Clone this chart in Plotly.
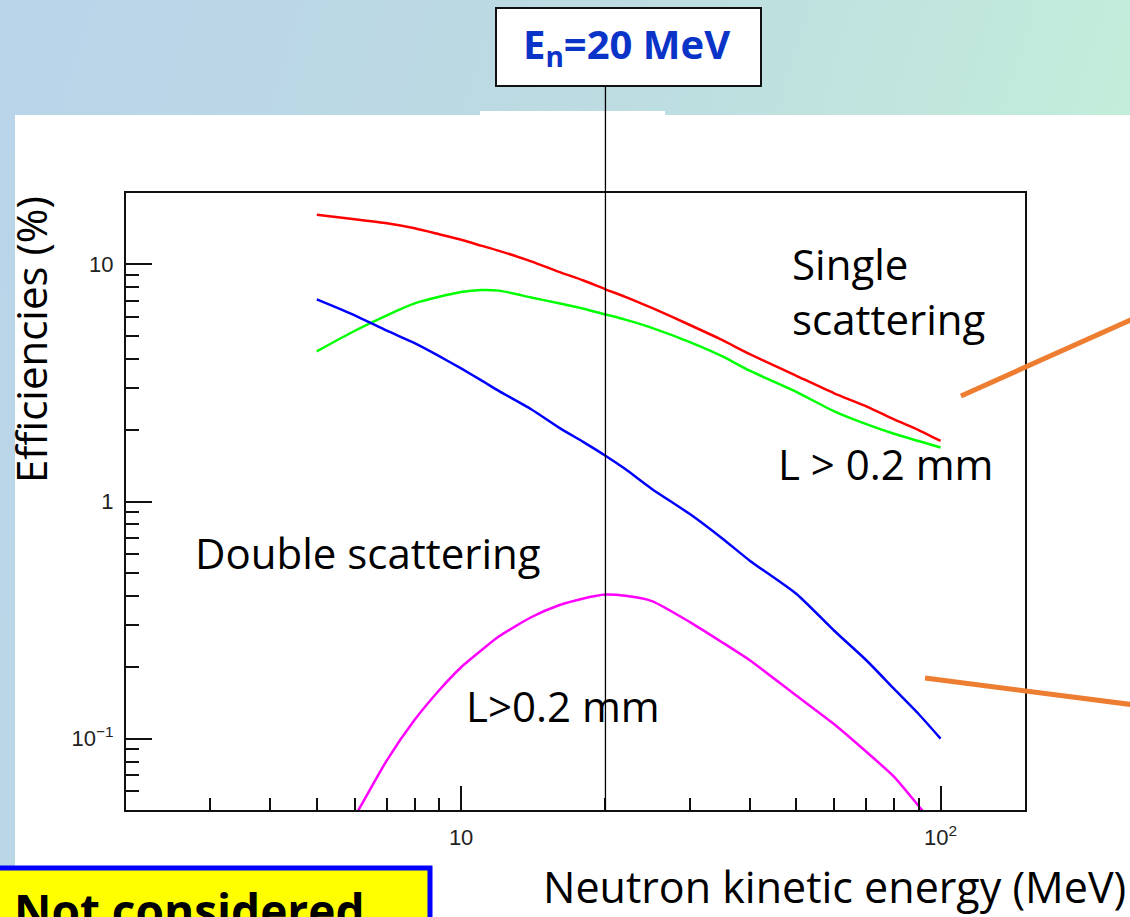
import base64
import math
import plotly.graph_objects as go

# ---------------- data ----------------
energy_mev = [5, 6, 7, 8, 9, 10, 11, 12, 14, 16, 18, 20, 22, 25, 30, 35, 40, 50, 60, 70, 80, 90, 100]
single_all = [16.2, 15.5, 14.9, 14.2, 13.4, 12.7, 12.0, 11.4, 10.3, 9.3, 8.55, 7.85, 7.3, 6.55, 5.55, 4.8,
              4.18, 3.39, 2.86, 2.52, 2.22, 2.0, 1.80]
single_L = [4.3, 5.25, 6.1, 6.85, 7.3, 7.65, 7.8, 7.75, 7.25, 6.85, 6.5, 6.15, 5.85, 5.4, 4.7, 4.1,
            3.56, 2.9, 2.4, 2.12, 1.93, 1.8, 1.69]
double_all = [7.12, 6.1, 5.25, 4.65, 4.1, 3.64, 3.25, 2.92, 2.45, 2.05, 1.78, 1.56, 1.37, 1.13, 0.885, 0.70,
              0.563, 0.408, 0.285, 0.214, 0.162, 0.127, 0.10]
double_L = [0.026, 0.047, 0.081, 0.120, 0.16, 0.20, 0.235, 0.27, 0.325, 0.365, 0.39, 0.405, 0.40, 0.38, 0.31,
            0.255, 0.214, 0.152, 0.115, 0.088, 0.069, 0.052, 0.040]

marker_energy = 20
x_tickvals = [10, 100]
x_ticktext = ["10", "10<sup>2</sup>"]
x_minor = [3, 4, 5, 6, 7, 8, 9, 20, 30, 40, 50, 60, 70, 80, 90]
y_tickvals = [0.1, 1, 10]
y_ticktext = ["10<sup>\u22121</sup>", "1", "10"]
y_minor = [0.06, 0.07, 0.08, 0.09, 0.2, 0.3, 0.4, 0.5, 0.6, 0.7, 0.8, 0.9, 2, 3, 4, 5, 6, 7, 8, 9]

# ---------------- geometry ----------------
W, H = 1130, 917
L, R, T, B = 126, 1025, 193, 810
PW, PH = R - L, B - T


def px(x):
    return (x - L) / PW


def py(y):
    return (B - y) / PH


svg = f'''<svg xmlns="http://www.w3.org/2000/svg" width="{W}" height="{H}" viewBox="0 0 {W} {H}">
<defs><linearGradient id="g" x1="0" y1="0" x2="1" y2="0.25">
<stop offset="0" stop-color="#bad4ea"/><stop offset="0.5" stop-color="#bcdbe2"/>
<stop offset="1" stop-color="#c4eeda"/></linearGradient></defs>
<rect x="0" y="0" width="{W}" height="{H}" fill="url(#g)"/></svg>'''
bg_src = "data:image/svg+xml;base64," + base64.b64encode(svg.encode()).decode()

CAL = "Open Sans, Carlito, Calibri, sans-serif"
ROOTF = "Liberation Sans, Arial, sans-serif"

fig = go.Figure()
for vals, col in [(single_all, "#ff0000"), (single_L, "#00ff00"),
                  (double_all, "#0000ff"), (double_L, "#ff00ff")]:
    fig.add_trace(go.Scatter(x=energy_mev, y=vals, mode="lines",
                             line=dict(color=col, width=2.5, shape="spline", smoothing=0.6),
                             showlegend=False, hoverinfo="skip"))

axis_common = dict(type="log", showgrid=False, zeroline=False, showline=True, mirror=True,
                   linecolor="#111", linewidth=2, ticks="inside", tickcolor="#111", tickwidth=2,
                   tickfont=dict(family=ROOTF, size=22, color="#222"), tickmode="array")

fig.update_xaxes(range=[math.log10(2), math.log10(150)], tickvals=x_tickvals, ticktext=x_ticktext,
                 ticklen=24, ticklabelstandoff=7,
                 minor=dict(tickmode="array", tickvals=x_minor, ticks="inside", ticklen=12,
                            tickcolor="#111", tickwidth=2),
                 **axis_common)
fig.update_yaxes(range=[math.log10(0.05), math.log10(20)], tickvals=y_tickvals, ticktext=y_ticktext,
                 ticklen=26, ticklabelstandoff=6,
                 minor=dict(tickmode="array", tickvals=y_minor, ticks="inside", ticklen=13,
                            tickcolor="#111", tickwidth=2),
                 **axis_common)

shapes = [
    # white slide area
    dict(type="rect", xref="paper", yref="paper", x0=px(15), x1=px(1140), y0=py(115), y1=py(930),
         fillcolor="white", line=dict(width=0), layer="below"),
    dict(type="rect", xref="paper", yref="paper", x0=px(480), x1=px(665), y0=py(111), y1=py(116),
         fillcolor="white", line=dict(width=0), layer="below"),
    # E_n box
    dict(type="rect", xref="paper", yref="paper", x0=px(496), x1=px(761), y0=py(86), y1=py(8),
         fillcolor="white", line=dict(color="#111", width=2), layer="above"),
    # 20 MeV marker line
    dict(type="line", xref="x", yref="paper", x0=marker_energy, x1=marker_energy, y0=0, y1=py(86),
         line=dict(color="black", width=1.3), layer="above"),
    # orange pointers
    dict(type="line", xref="paper", yref="paper", x0=px(961), y0=py(396), x1=px(1135), y1=py(318),
         line=dict(color="#ed7d31", width=5), layer="above"),
    dict(type="line", xref="paper", yref="paper", x0=px(925), y0=py(678), x1=px(1135), y1=py(705),
         line=dict(color="#ed7d31", width=5), layer="above"),
    # Not considered box
    dict(type="rect", xref="paper", yref="paper", x0=px(-20), x1=px(430), y0=py(868), y1=py(940),
         fillcolor="#ffff00", line=dict(color="#0000ff", width=5), layer="above"),
]


def ann(text, x, y, size=42, xanchor="left", yanchor="middle", color="black", angle=0, family=CAL):
    return dict(text=text, xref="paper", yref="paper", x=px(x), y=py(y), xanchor=xanchor,
                yanchor=yanchor, showarrow=False, textangle=angle,
                font=dict(family=family, size=size, color=color))


annotations = [
    ann("Single", 790, 263),
    ann("scattering", 790, 318),
    ann("L > 0.2 mm", 776, 463),
    ann("Double scattering", 193, 552),
    ann("L>0.2 mm", 464, 705),
    ann("Neutron kinetic energy (MeV)", 834, 886, size=43, xanchor="center"),
    ann("Efficiencies (%)", 30, 340, size=42, xanchor="center", angle=-90),
    ann("<b>E<sub>n</sub>=20 MeV</b>", 626, 46, size=40, xanchor="center", color="#0a33c8"),
    ann("<b>Not considered</b>", 12, 910, size=46),
]

fig.update_layout(
    width=W, height=H, margin=dict(l=L, r=W - R, t=T, b=H - B, pad=0, autoexpand=False),
    paper_bgcolor="rgba(0,0,0,0)", plot_bgcolor="white",
    shapes=shapes, annotations=annotations,
    images=[dict(source=bg_src, xref="paper", yref="paper", x=px(0), y=py(0), sizex=W / PW, sizey=H / PH,
                 xanchor="left", yanchor="top", sizing="stretch", layer="below")],
)

fig.write_html("out.html", config={"displayModeBar": False},
               post_script="document.body.style.margin='0';document.body.style.overflow='hidden';")
